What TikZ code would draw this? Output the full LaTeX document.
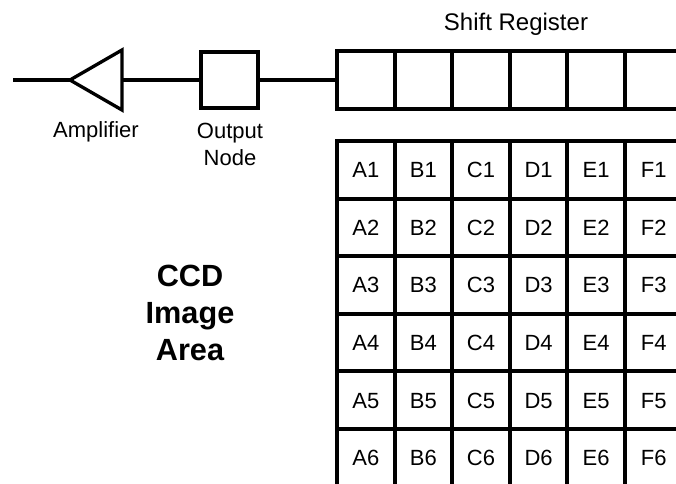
\documentclass[tikz,border=0pt]{standalone}
\usepackage{fontspec}
\setmainfont{Liberation Sans}
\begin{document}
\begin{tikzpicture}[x=0.75pt,y=-0.75pt,line width=2.9pt,
  cell/.style={draw,minimum size=43.2pt,inner sep=0pt,text height=11.9pt,text depth=0pt,font=\fontsize{16.5}{19}\selectfont},
  box/.style={draw,minimum size=42.5pt,inner sep=0pt},
  lbl/.style={font=\fontsize{16.5}{20.25}\selectfont,align=center,inner sep=0pt},
  big/.style={font=\fontsize{23}{28}\selectfont\bfseries,align=center,inner sep=0pt},
  wire/.style={line width=2.9pt}]
\useasboundingbox (0,0) rectangle (676,483);
\clip (0,0) rectangle (676,483);
% shift register and image area
\foreach \c [count=\i from 0] in {A,B,C,D,E,F}{
  \node[cell] (s\c) at (365.8+57.6*\i,80) {};
  \foreach \r in {1,...,6}{
    \node[cell] (\c\r) at (365.8+57.6*\i,169.8+57.6*\r-57.6) {\c\r};
  }
}
% output node
\node[box] (out) at (229.5,80) {};
% amplifier
\coordinate (amptip) at (70,80);
\coordinate (ampbase) at (122,80);
\coordinate (inl) at (13,80);
\draw[line width=2.5pt,line join=miter] (amptip) -- (122,50) -- (122,110) -- cycle;
% wires
\draw[wire] (inl) -- (amptip);
\draw[wire] (ampbase) -- (out.west);
\draw[wire] (out.east) -- (sA.west);
% labels
\node[lbl,anchor=base] (amplbl) at (96,137.3) {Amplifier};
\node[lbl] (outlbl) at (230,144) {Output\\Node};
\node[lbl,anchor=base,font=\fontsize{18}{22}\selectfont] (srlbl) at (516,30.7) {Shift Register};
\node[big] (ccd) at (190,313) {CCD\\Image\\Area};
\end{tikzpicture}
\end{document}
